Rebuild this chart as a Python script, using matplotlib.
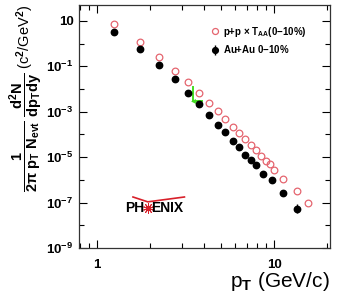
import numpy as np
import matplotlib
matplotlib.use("Agg")
import matplotlib.pyplot as plt
from matplotlib.ticker import LogLocator, NullFormatter, FixedLocator, FixedFormatter

# p+p scaled by T_AA (open red circles)
pt_pp = [1.24, 1.75, 2.25, 2.76, 3.28, 3.78, 4.29, 4.81, 5.3, 5.84, 6.37,
         6.86, 7.41, 7.91, 8.45, 8.98, 9.5, 9.96, 11.2, 13.4, 15.5]
yield_pp = [7.4, 1.19, 0.25, 0.065, 0.0206, 6.9e-3, 2.5e-3, 1.05e-3, 4.8e-4,
            2.2e-4, 1.13e-4, 6.2e-5, 3.4e-5, 2.0e-5, 1.13e-5, 6.6e-6, 5.0e-6,
            2.8e-6, 1.13e-6, 3.1e-7, 9.6e-8]

# Au+Au 0-10% (black)
pt_auau = [1.24, 1.75, 2.25, 2.76, 3.28, 3.78, 4.29, 4.81, 5.3, 5.84, 6.37,
           6.86, 7.41, 7.91, 8.67, 9.7, 11.2, 13.4]
yield_auau = [3.3, 0.58, 0.119, 0.027, 6.7e-3, 2.1e-3, 7.0e-4, 2.6e-4, 1.25e-4,
              5.3e-5, 2.8e-5, 1.2e-5, 7.3e-6, 4.4e-6, 1.8e-6, 9.6e-7, 2.6e-7, 5.4e-8]
err_lo = [0, 0, 0, 0, 0, 0, 0, 0, 0, 0, 0, 0, 0, 0, 0, 0, 0.5e-7, 2.0e-8]
err_hi = [0, 0, 0, 0, 0, 0, 0, 0, 0, 0, 0, 0, 0, 0, 0, 0, 0.6e-7, 3.0e-8]

# green shift marker (corner of the L)
shift_x = [3.5, 3.5, 3.92]
shift_y = [0.0124, 3.0e-3, 3.0e-3]

ytick_vals = [10, 1e-1, 1e-3, 1e-5, 1e-7, 1e-9]
ytick_text = ['10', r'$10^{-1}$', r'$10^{-3}$', r'$10^{-5}$', r'$10^{-7}$', r'$10^{-9}$']

plt.rcParams['font.family'] = ['Liberation Sans', 'DejaVu Sans']
plt.rcParams['font.weight'] = 'bold'
plt.rcParams['mathtext.fontset'] = 'custom'
plt.rcParams['mathtext.rm'] = 'Liberation Sans:bold'
plt.rcParams['mathtext.it'] = 'Liberation Sans:bold'
plt.rcParams['mathtext.bf'] = 'Liberation Sans:bold'
plt.rcParams['mathtext.default'] = 'rm'

fig = plt.figure(figsize=(3.49, 3.01), dpi=100)
ax = fig.add_axes([0.2264, 0.176, 0.7192, 0.8074])

red = '#e5656f'
green = '#44dd22'
ax.plot(pt_pp, yield_pp, 'o', ms=4.8, mfc='none', mec=red, mew=0.9,
        label=r'p+p $\times$ T$_{AA}$(0$-$10%)')
ax.errorbar(pt_auau, yield_auau, yerr=[err_lo, err_hi], fmt='o', ms=4.6,
            color='black', elinewidth=1.0, capsize=0,
            label=r'Au+Au 0$-$10%')
ax.plot(shift_x, shift_y, color=green, lw=1.4)
ax.plot([shift_x[1]], [shift_y[1]], marker='<', ms=3.5, color=green, mew=0)

ax.set_xscale('log')
ax.set_yscale('log')
ax.set_xlim(0.79, 20.7)
ax.set_ylim(1e-9, 50)

ax.yaxis.set_major_locator(FixedLocator(ytick_vals))
ax.yaxis.set_major_formatter(FixedFormatter(ytick_text))
ax.yaxis.set_minor_locator(LogLocator(base=10, numticks=20))
ax.yaxis.set_minor_formatter(NullFormatter())
ax.xaxis.set_major_locator(FixedLocator([1, 10]))
ax.xaxis.set_major_formatter(FixedFormatter(['1', '10']))
ax.xaxis.set_minor_locator(LogLocator(base=10, subs=np.arange(2, 10), numticks=20))
ax.xaxis.set_minor_formatter(NullFormatter())

ax.tick_params(which='both', direction='in', top=True, right=True, labelsize=9.5, width=0.8)
ax.tick_params(which='major', length=6)
ax.tick_params(which='minor', length=3.5)
ax.tick_params(axis='y', pad=4)
ax.tick_params(axis='x', pad=8)
for s in ax.spines.values():
    s.set_linewidth(0.9)
    s.set_color('#333333')

ax.set_xlabel(r'p$_{\rm T}$ (GeV/c)', fontsize=15, loc='right', labelpad=-1)
ax.set_ylabel(r'$\dfrac{1}{2\pi\ p_T\ N_{evt}}\ \dfrac{d^2N}{dp_T dy}$ (c$^2$/GeV$^2$)',
              fontsize=10.5, loc='top', labelpad=1)

ax.legend(loc='upper left', bbox_to_anchor=(0.48, 0.955), frameon=False,
          fontsize=7, handletextpad=0.2, labelspacing=0.45, handlelength=1.3,
          markerscale=0.9)

# PHENIX logo
logo_red = '#d8202a'
ax.text(0.26, 0.163, 'PH', transform=ax.transAxes, fontsize=10, fontweight='bold',
        va='center', ha='right')
ax.plot([0.274], [0.165], marker=(10, 2, 0), ms=7.5, color=logo_red, mew=0.7,
        transform=ax.transAxes)
ax.text(0.289, 0.163, 'ENIX', transform=ax.transAxes, fontsize=10, fontweight='bold',
        va='center', ha='left')
ax.plot([0.215, 0.274, 0.42], [0.21, 0.19, 0.21], color=logo_red, lw=1.2,
        transform=ax.transAxes)

plt.savefig('out.png', dpi=100)
plt.close()
